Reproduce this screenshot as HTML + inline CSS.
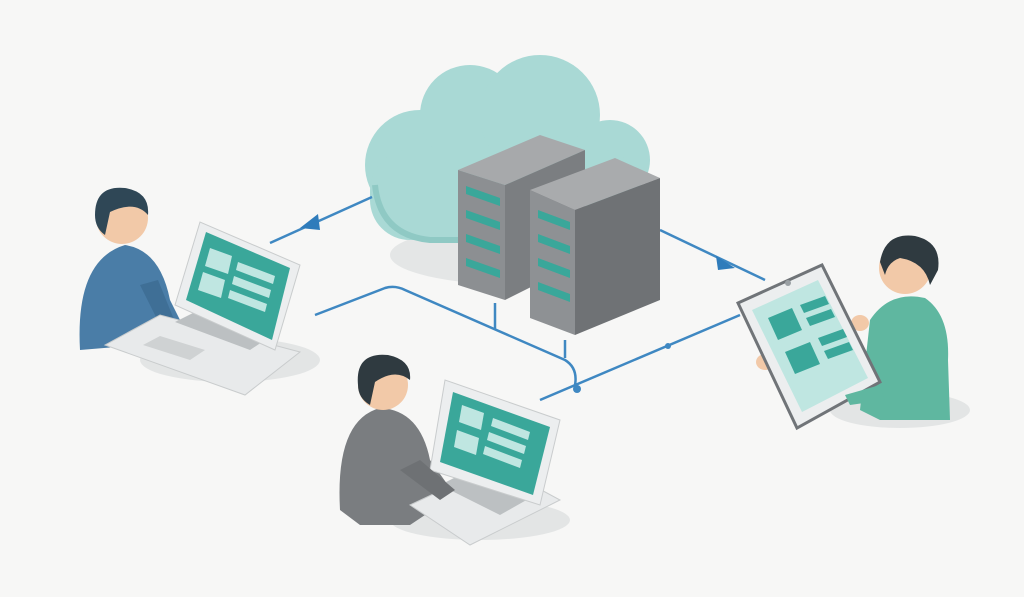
<!DOCTYPE html>
<html><head><meta charset="utf-8"><style>
html,body{margin:0;padding:0;background:#f7f7f6;}
svg{display:block}
</style></head><body>
<svg width="1024" height="597" viewBox="0 0 1024 597" xmlns="http://www.w3.org/2000/svg">
<rect width="1024" height="597" fill="#f7f7f6"/>
<ellipse cx="520" cy="255" rx="130" ry="30" fill="#e4e6e6"/>
<ellipse cx="230" cy="360" rx="90" ry="22" fill="#e3e5e5"/>
<ellipse cx="480" cy="520" rx="90" ry="20" fill="#e3e5e5"/>
<ellipse cx="900" cy="410" rx="70" ry="18" fill="#e3e5e5"/>
<g fill="#a9d9d5">
<circle cx="420" cy="165" r="55"/>
<circle cx="470" cy="115" r="50"/>
<circle cx="540" cy="115" r="60"/>
<circle cx="610" cy="160" r="40"/>
<rect x="370" y="150" width="270" height="90" rx="40"/>
</g>
<path d="M375 185 Q380 235 430 240 L600 240" fill="none" stroke="#8fc9c4" stroke-width="6"/>
<g stroke="#3f88c2" stroke-width="2.5" fill="none">
<line x1="372" y1="197" x2="270" y2="243"/>
<line x1="660" y1="230" x2="765" y2="280"/>
<path d="M315 315 L385 288 Q395 285 405 290 L565 360 Q578 368 575 385"/>
<path d="M540 400 L740 315"/>
<line x1="495" y1="303" x2="495" y2="330"/>
<line x1="565" y1="340" x2="565" y2="358"/>
</g>
<polygon points="300,228 318,214 320,230" fill="#2f7cbb"/>
<polygon points="735,268 716,256 718,270" fill="#2f7cbb"/>
<circle cx="577" cy="389" r="4" fill="#3f88c2"/>
<circle cx="668" cy="346" r="3" fill="#3f88c2"/>
<polygon points="458,170 540,135 585,150 505,185" fill="#a7a9ab"/>
<polygon points="458,170 505,185 505,300 458,285" fill="#8c8f92"/>
<polygon points="505,185 585,150 585,260 505,300" fill="#7b7e81"/>
<g fill="#3aa79a">
<path d="M466 186 L500 198 L500 206 L466 194Z"/>
<path d="M466 210 L500 222 L500 230 L466 218Z"/>
<path d="M466 234 L500 246 L500 254 L466 242Z"/>
<path d="M466 258 L500 270 L500 278 L466 266Z"/>
</g>
<polygon points="530,190 615,158 660,178 575,210" fill="#a9abad"/>
<polygon points="530,190 575,210 575,335 530,318" fill="#8e9194"/>
<polygon points="575,210 660,178 660,300 575,335" fill="#6f7275"/>
<g fill="#3aa79a">
<path d="M538 210 L570 222 L570 230 L538 218Z"/>
<path d="M538 234 L570 246 L570 254 L538 242Z"/>
<path d="M538 258 L570 270 L570 278 L538 266Z"/>
<path d="M538 282 L570 294 L570 302 L538 290Z"/>
</g>
<!-- left person -->
<path d="M80 350 Q75 260 125 245 Q160 250 170 300 L185 330 L140 345Z" fill="#4a7da7"/>
<path d="M140 285 L160 325 L175 322 L158 280Z" fill="#3f6f96"/>
<circle cx="122" cy="218" r="26" fill="#f2c9a8"/>
<path d="M95 215 Q95 185 125 188 Q150 192 148 215 Q135 200 110 212 L105 235 Q95 228 95 215Z" fill="#2f4756"/>
<ellipse cx="163" cy="328" rx="12" ry="8" fill="#f2c9a8"/>
<polygon points="105,345 245,395 300,352 160,315" fill="#e8eaeb" stroke="#c9cccd"/>
<polygon points="143,345 190,360 205,350 160,336" fill="#cfd2d3"/>
<polygon points="175,322 250,350 268,338 195,312" fill="#bcc0c2"/>
<polygon points="175,305 200,222 300,265 275,350" fill="#eceeef" stroke="#c9cccd"/>
<polygon points="186,300 206,232 290,268 272,340" fill="#3aa79a"/>
<g fill="#bfe6e1">
<polygon points="210,248 232,256 228,274 205,266"/>
<polygon points="203,272 225,280 221,298 198,290"/>
<polygon points="238,262 275,276 273,284 236,270"/>
<polygon points="234,276 271,290 269,298 232,284"/>
<polygon points="230,290 267,304 265,312 228,298"/>
</g>
<!-- middle person -->
<path d="M340 510 Q335 420 380 408 Q420 410 430 460 L455 495 L410 525 L360 525Z" fill="#7a7d80"/>
<circle cx="383" cy="385" r="25" fill="#f2c9a8"/>
<path d="M358 385 Q355 352 388 355 Q412 360 410 380 Q395 368 375 382 L370 405 Q358 398 358 385Z" fill="#2f3a40"/>
<ellipse cx="465" cy="492" rx="12" ry="8" fill="#f2c9a8"/>
<polygon points="410,505 470,545 560,500 495,465" fill="#e8eaeb" stroke="#c9cccd"/>
<polygon points="440,485 500,515 530,498 470,470" fill="#bcc0c2"/>
<polygon points="430,470 445,380 560,420 540,505" fill="#eceeef" stroke="#c9cccd"/>
<polygon points="440,462 453,392 550,427 533,495" fill="#3aa79a"/>
<g fill="#bfe6e1">
<polygon points="462,405 484,413 481,430 459,422"/>
<polygon points="457,430 479,438 476,455 454,447"/>
<polygon points="493,418 530,432 528,440 491,426"/>
<polygon points="489,432 526,446 524,454 487,440"/>
<polygon points="485,446 522,460 520,468 483,454"/>
</g>
<path d="M400 470 L440 500 L455 490 L420 460Z" fill="#6e7174"/>
<!-- right person -->
<path d="M860 410 L870 320 Q890 290 925 298 Q950 315 948 360 L950 420 L880 420Z" fill="#5fb7a0"/>
<circle cx="905" cy="268" r="26" fill="#f2c9a8"/>
<path d="M880 262 Q885 232 915 236 Q942 242 938 270 L930 285 Q925 262 900 258 Q888 262 885 275Z" fill="#2f3a40"/>
<ellipse cx="860" cy="323" rx="9" ry="8" fill="#f2c9a8"/>
<ellipse cx="835" cy="390" rx="10" ry="9" fill="#f2c9a8"/>
<ellipse cx="765" cy="362" rx="9" ry="8" fill="#f2c9a8"/>
<polygon points="738,303 822,265 880,382 797,428" fill="#eceeef" stroke="#707478" stroke-width="3"/>
<polygon points="752,310 818,280 868,378 802,412" fill="#bfe6e1"/>
<g fill="#3aa79a">
<polygon points="768,318 792,308 802,330 778,340"/>
<polygon points="785,352 810,342 820,364 795,374"/>
<polygon points="800,305 825,296 829,304 804,313"/>
<polygon points="806,318 831,309 835,317 810,326"/>
<polygon points="818,338 843,329 847,337 822,346"/>
<polygon points="824,351 849,342 853,350 828,359"/>
</g>
<path d="M845 395 L880 385 L885 400 L850 405Z" fill="#5fb7a0"/>
<circle cx="788" cy="283" r="3" fill="#9aa0a4"/>
</svg>
</body></html>
